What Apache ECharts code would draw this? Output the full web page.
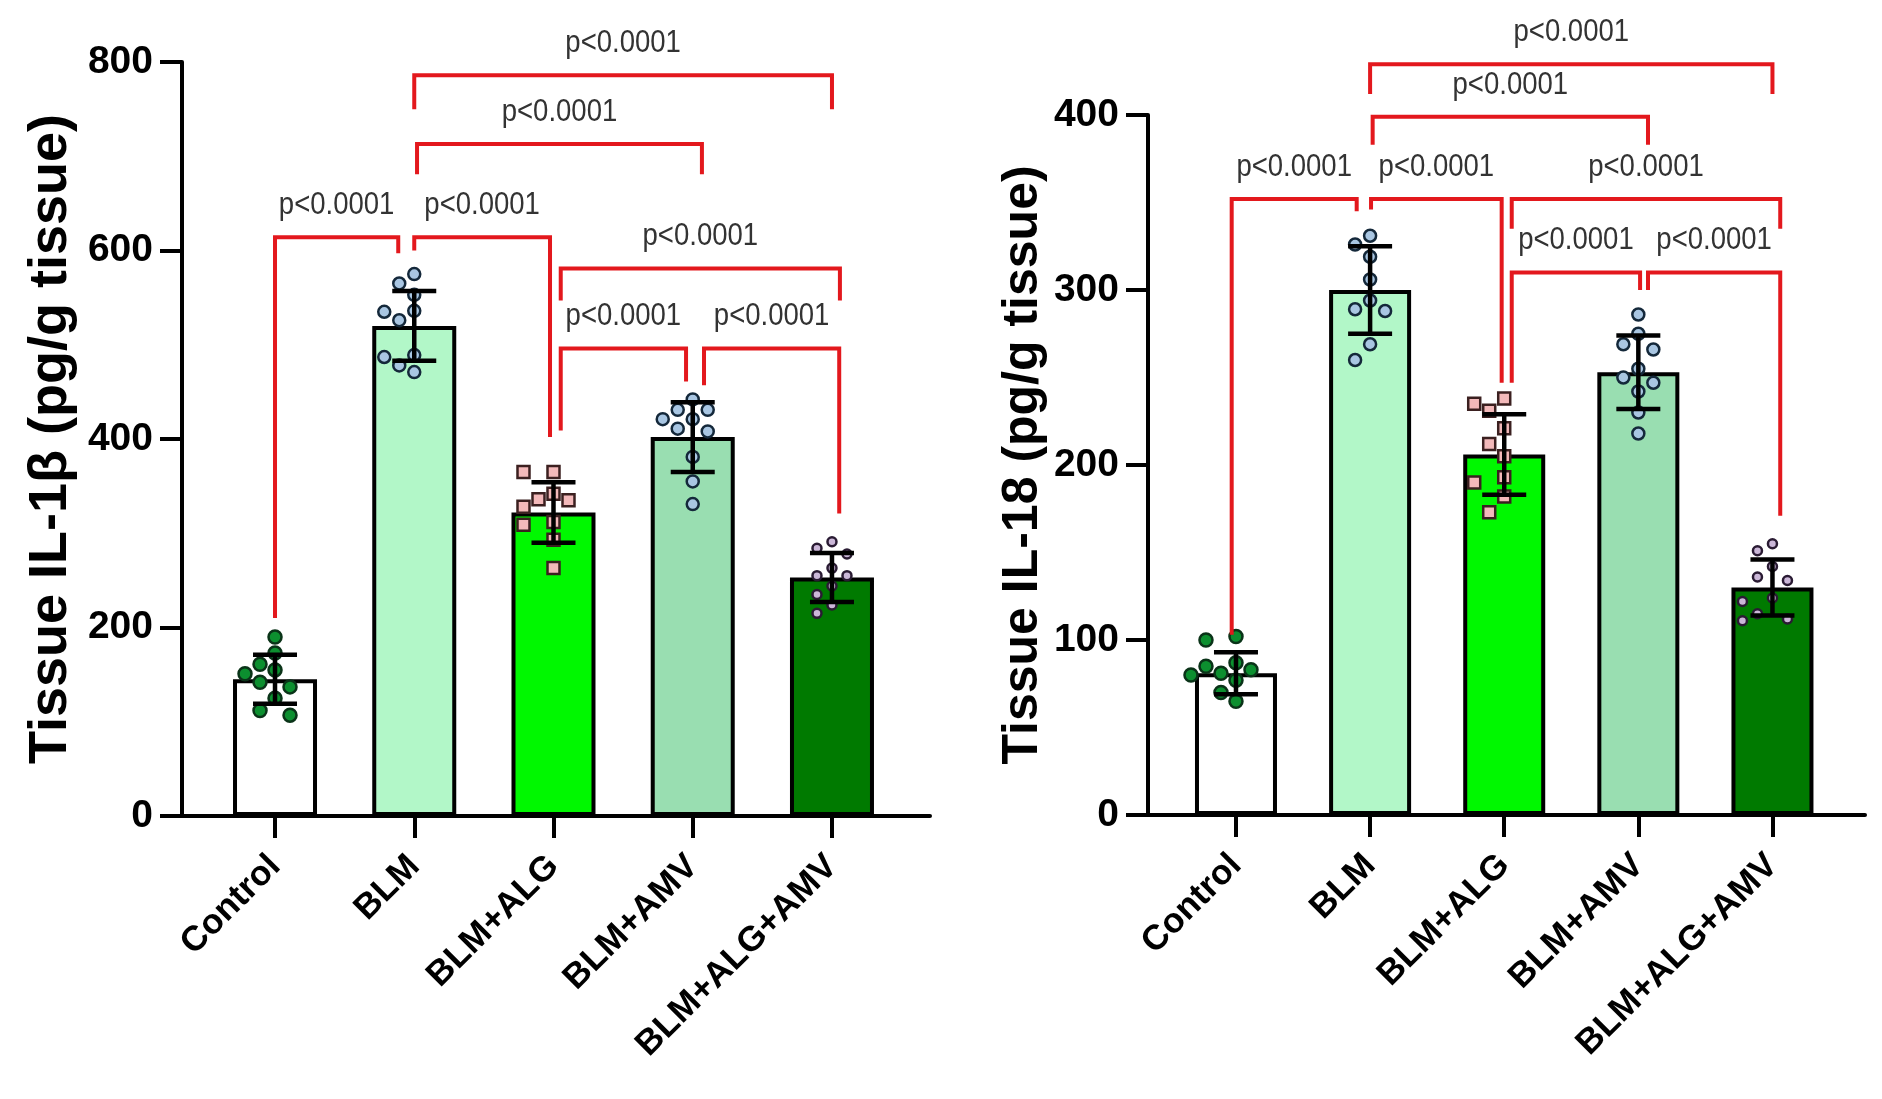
<!DOCTYPE html>
<html><head><meta charset="utf-8">
<script src="https://cdn.jsdelivr.net/npm/echarts@6/dist/echarts.min.js"></script>
<style>html,body{margin:0;padding:0;background:#fff}#c{width:1882px;height:1099px}</style>
</head><body><div id="c"></div>
<script>
// ---------------- data ----------------
const categories = ['Control', 'BLM', 'BLM+ALG', 'BLM+AMV', 'BLM+ALG+AMV'];

// Tissue IL-1β
const il1bMean = [145, 520, 322, 402, 253];
const il1bSD = [26, 37, 32, 37, 26];
const il1bPoints = [
  [190, 173, 161, 155, 151, 142, 137, 125, 112, 107],
  [575, 565, 553, 536, 535, 526, 489, 487, 478, 471],
  [365, 365, 342, 336, 335, 328, 312, 309, 293, 263],
  [442, 431, 431, 421, 421, 411, 408, 381, 355, 331],
  [291, 284, 278, 263, 255, 255, 244, 235, 224, 215]
];
const il1bTicks = [0, 200, 400, 600, 800];
// [fromGroup, toGroup, bracketLevel, leftLegEnd, rightLegEnd]
const il1bBrackets = [
  [1, 4, 786, 750, 750],
  [1, 3, 713, 681, 681],
  [0, 1, 614, 210, 597],
  [1, 2, 614, 600, 402],
  [2, 4, 581, 547, 547],
  [2, 3, 496, 409, 461],
  [3, 4, 496, 457, 321]
];
const il1bPLabels = ['p<0.0001', 'p<0.0001', 'p<0.0001', 'p<0.0001', 'p<0.0001', 'p<0.0001', 'p<0.0001'];

// Tissue IL-18
const il18Mean = [81, 300, 206, 253, 130];
const il18SD = [12, 25, 23, 21, 16];
const il18Points = [
  [102, 100, 87, 85, 83, 81, 80, 77, 70, 65],
  [331, 326, 319, 306, 294, 289, 288, 269, 260],
  [238, 235, 231, 221, 212, 205, 193, 190, 182, 173],
  [286, 275, 269, 266, 255, 250, 247, 242, 230, 218],
  [155, 151, 142, 136, 134, 124, 122, 115, 112, 111]
];
const il18Ticks = [0, 100, 200, 300, 400];
const il18Brackets = [
  [1, 4, 429, 412, 412],
  [1, 3, 399, 383, 383],
  [0, 1, 352, 103, 345],
  [1, 2, 352, 346, 247],
  [2, 4, 352, 335, 335],
  [2, 3, 310, 247, 300],
  [3, 4, 310, 300, 171]
];
const il18PLabels = ['p<0.0001', 'p<0.0001', 'p<0.0001', 'p<0.0001', 'p<0.0001', 'p<0.0001', 'p<0.0001'];

// ---------------- styling ----------------
const FONT = '"Liberation Sans", Arial, Helvetica, sans-serif';
const barColors = ['#ffffff', '#b2f7c8', '#00f800', '#99deb1', '#007a00'];
const pointStyles = [
  { symbol: 'circle', size: 13, fill: '#0c8f2f', stroke: '#0a3318' },
  { symbol: 'circle', size: 12, fill: '#a9c6e2', stroke: '#14283a' },
  { symbol: 'rect', size: 12, fill: '#f3b9ba', stroke: '#3b2020' },
  { symbol: 'circle', size: 12, fill: '#a9c6e2', stroke: '#14283a' },
  { symbol: 'circle', size: 9, fill: '#cbb7d8', stroke: '#2a1b33' }
];
// small leg nudges (category units) so adjacent brackets do not merge
const il1bNudge = [[0, 0], [0.02, 0.066], [0, -0.115], [0, -0.025], [0.052, 0.057], [0.052, -0.048], [0.081, 0.052]];
const il18Nudge = [[0, 0], [0.019, 0.072], [-0.032, -0.1], [0.007, -0.019], [0.056, 0.058], [0.056, 0.013], [0.072, 0.058]];

function axisPair(gi, xmin, xmax, ymax, yint, ticks, title, nameGap, nameSize) {
  const x = {
    gridIndex: gi, type: 'value', min: xmin, max: xmax,
    splitLine: { show: false },
    axisLine: { show: true, onZero: false, lineStyle: { color: '#000', width: 4 } },
    axisTick: { show: true, customValues: [0, 1, 2, 3, 4], length: 22, lineStyle: { color: '#000', width: 4 } },
    axisLabel: {
      customValues: [0, 1, 2, 3, 4], formatter: v => categories[Math.round(v)],
      rotate: 45, margin: 45, fontSize: 35, fontWeight: 'bold', color: '#000', fontFamily: FONT
    }
  };
  const y = {
    gridIndex: gi, type: 'value', min: 0, max: ymax, interval: yint,
    splitLine: { show: false },
    axisLine: { show: true, onZero: false, lineStyle: { color: '#000', width: 4 } },
    axisTick: { show: true, customValues: ticks, length: 22, lineStyle: { color: '#000', width: 4 } },
    axisLabel: { customValues: ticks, margin: 29, fontSize: 39, fontWeight: 'bold', color: '#000', fontFamily: FONT },
    name: title, nameLocation: 'middle', nameGap: nameGap, nameRotate: 90,
    nameTextStyle: { fontSize: nameSize, fontWeight: 'bold', color: '#000', fontFamily: FONT }
  };
  return [x, y];
}

function swarm(items, step, minD) {
  const order = items.map((p, i) => i).sort((a, b) => items[a].y - items[b].y);
  const placed = [];
  const xs = new Array(items.length);
  const ks = [0, -1, 1, -2, 2, -3, 3, -4, 4];
  order.forEach(i => {
    const p = items[i];
    for (const k of ks) {
      const x = p.cx + k * step;
      if (placed.every(q => Math.hypot(q[0] - x, q[1] - p.y) >= minD)) {
        placed.push([x, p.y]); xs[i] = x; break;
      }
    }
    if (xs[i] === undefined) { xs[i] = p.cx; placed.push([p.cx, p.y]); }
  });
  return xs;
}

function seriesFor(gi, means, sds, points, brackets, nudges, labels, barW) {
  const ax = { xAxisIndex: gi, yAxisIndex: gi };
  const bars = Object.assign({
    type: 'bar', barWidth: barW, z: 2,
    itemStyle: { borderColor: '#000', borderWidth: 4 },
    data: means.map((m, i) => ({ value: [i, m], itemStyle: { color: barColors[i] } }))
  }, ax);
  const dots = Object.assign({
    type: 'custom', z: 3, clip: false,
    data: means.map((m, i) => [i, m]),
    renderItem: (params, api) => {
      const g = api.value(0);
      const st = pointStyles[g];
      const items = points[g].map(v => { const c = api.coord([g, v]); return { cx: c[0], y: c[1] }; });
      const xs = swarm(items, 15, 16);
      const children = items.map((p, k) => {
        const r = st.size / 2;
        if (st.symbol === 'rect') {
          return { type: 'rect', shape: { x: xs[k] - r, y: p.y - r, width: st.size, height: st.size },
            style: { fill: st.fill, stroke: st.stroke, lineWidth: 2.5 } };
        }
        return { type: 'circle', shape: { cx: xs[k], cy: p.y, r: r },
          style: { fill: st.fill, stroke: st.stroke, lineWidth: 2.5 } };
      });
      return { type: 'group', children };
    }
  }, ax);
  const errs = Object.assign({
    type: 'custom', z: 4, clip: false,
    data: means.map((m, i) => [i, m, sds[i]]),
    renderItem: (params, api) => {
      const i = api.value(0), m = api.value(1), s = api.value(2);
      const t = api.coord([i, m + s]), b = api.coord([i, m - s]);
      const half = 22;
      const ls = { stroke: '#000', lineWidth: 4.5 };
      return { type: 'group', children: [
        { type: 'line', shape: { x1: t[0], y1: t[1], x2: b[0], y2: b[1] }, style: ls },
        { type: 'line', shape: { x1: t[0] - half, y1: t[1], x2: t[0] + half, y2: t[1] }, style: ls },
        { type: 'line', shape: { x1: b[0] - half, y1: b[1], x2: b[0] + half, y2: b[1] }, style: ls }
      ] };
    }
  }, ax);
  const brk = Object.assign({
    type: 'custom', z: 5, clip: false,
    data: brackets.map((b, k) => [k, b[2]]),
    renderItem: (params, api) => {
      const k = api.value(0);
      const b = brackets[k], n = nudges[k];
      const p1 = api.coord([b[0] + n[0], b[3]]);
      const p2 = api.coord([b[0] + n[0], b[2]]);
      const p3 = api.coord([b[1] + n[1], b[2]]);
      const p4 = api.coord([b[1] + n[1], b[4]]);
      return { type: 'group', children: [
        { type: 'polyline', shape: { points: [p1, p2, p3, p4] },
          style: { stroke: '#e3181d', lineWidth: 4, fill: null, lineJoin: 'miter' } },
        { type: 'text', x: (p2[0] + p3[0]) / 2, y: p2[1] - 32, scaleX: 0.86,
          style: { text: labels[k], x: 0, y: 0, align: 'center', verticalAlign: 'middle',
            fill: '#333', font: '32px ' + FONT } }
      ] };
    }
  }, ax);
  return [bars, dots, errs, brk];
}

const [x0, y0] = axisPair(0, -0.668, 4.704, 800, 200, il1bTicks, 'Tissue IL-1β (pg/g tissue)', 104, 54);
const [x1, y1] = axisPair(1, -0.656, 4.69, 400, 100, il18Ticks, 'Tissue IL-18 (pg/g tissue)', 100, 50);

const chart = echarts.init(document.getElementById('c'), null, { renderer: 'canvas' });
chart.setOption({
  backgroundColor: '#ffffff',
  animation: false,
  grid: [
    { left: 182, right: 952, top: 62, bottom: 283 },
    { left: 1148, right: 17, top: 115, bottom: 284 }
  ],
  xAxis: [x0, x1],
  yAxis: [y0, y1],
  series: [].concat(
    seriesFor(0, il1bMean, il1bSD, il1bPoints, il1bBrackets, il1bNudge, il1bPLabels, 84),
    seriesFor(1, il18Mean, il18SD, il18Points, il18Brackets, il18Nudge, il18PLabels, 82)
  )
});
</script>
</body></html>
